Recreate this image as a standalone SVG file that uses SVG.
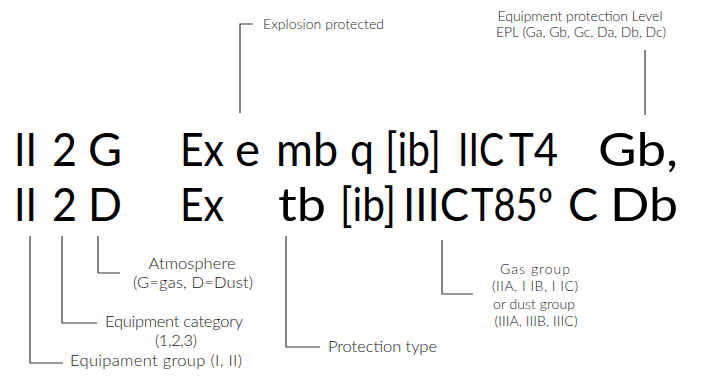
<svg xmlns="http://www.w3.org/2000/svg" width="703" height="378" viewBox="0 0 703 378">
<style>
.main{font-family:Lato,"Open Sans","Liberation Sans",sans-serif;font-size:46px;fill:#000}
.lbl{font-family:Lato,"Open Sans","Liberation Sans",sans-serif;font-weight:300;font-size:16.5px;fill:#222}
.sm{font-size:14px}
.c{text-anchor:middle}
.ln{fill:none;stroke:#333;stroke-width:1.2}
</style>
<rect width="703" height="378" fill="#fff"/>
<g id="code-line1">
<text class="main" x="14" y="166" textLength="23" lengthAdjust="spacingAndGlyphs">II</text>
<text class="main" x="52" y="166" textLength="25" lengthAdjust="spacingAndGlyphs">2</text>
<text class="main" x="88" y="166" textLength="34" lengthAdjust="spacingAndGlyphs">G</text>
<text class="main" x="180" y="166" textLength="44" lengthAdjust="spacingAndGlyphs">Ex</text>
<text class="main" x="235" y="166" textLength="25" lengthAdjust="spacingAndGlyphs">e</text>
<text class="main" x="276" y="166" textLength="62" lengthAdjust="spacingAndGlyphs">mb</text>
<text class="main" x="350" y="166" textLength="24" lengthAdjust="spacingAndGlyphs">q</text>
<text class="main" x="385" y="166" textLength="56" lengthAdjust="spacingAndGlyphs">[ib]</text>
<text class="main" x="458" y="166" textLength="46" lengthAdjust="spacingAndGlyphs">IIC</text>
<text class="main" x="509" y="166" textLength="49" lengthAdjust="spacingAndGlyphs">T4</text>
<text class="main" x="598" y="166" textLength="80" lengthAdjust="spacingAndGlyphs">Gb,</text>
</g>
<g id="code-line2">
<text class="main" x="14" y="221" textLength="23" lengthAdjust="spacingAndGlyphs">II</text>
<text class="main" x="52" y="221" textLength="25" lengthAdjust="spacingAndGlyphs">2</text>
<text class="main" x="88" y="221" textLength="34" lengthAdjust="spacingAndGlyphs">D</text>
<text class="main" x="180" y="221" textLength="44" lengthAdjust="spacingAndGlyphs">Ex</text>
<text class="main" x="278" y="221" textLength="48" lengthAdjust="spacingAndGlyphs">tb</text>
<text class="main" x="340" y="221" textLength="56" lengthAdjust="spacingAndGlyphs">[ib]</text>
<text class="main" x="403" y="221" textLength="66" lengthAdjust="spacingAndGlyphs">IIIC</text>
<text class="main" x="471" y="221" textLength="82" lengthAdjust="spacingAndGlyphs">T85º</text>
<text class="main" x="568" y="221" textLength="30" lengthAdjust="spacingAndGlyphs">C</text>
<text class="main" x="610" y="221" textLength="68" lengthAdjust="spacingAndGlyphs">Db</text>
</g>
<g id="connectors">
<polyline class="ln" points="30,236 30,363 63,363"/>
<polyline class="ln" points="62,236 62,323 97,323"/>
<polyline class="ln" points="98,236 98,273 120,273"/>
<polyline class="ln" points="286,236 286,347 320,347"/>
<polyline class="ln" points="442,240 442,294 473,294"/>
<polyline class="ln" points="240,113 240,24 253,24"/>
<line class="ln" x1="645" y1="50" x2="645" y2="115"/>
</g>
<g id="label-explosion">
<text class="lbl sm" x="263" y="29" textLength="121">Explosion protected</text>
</g>
<g id="label-epl">
<text class="lbl sm c" x="580" y="21" textLength="165">Equipment protection Level</text>
<text class="lbl sm c" x="581" y="37" textLength="170">EPL (Ga, Gb, Gc, Da, Db, Dc)</text>
</g>
<g id="label-atmosphere">
<text class="lbl c" x="192" y="269" textLength="87">Atmosphere</text>
<text class="lbl c" x="193" y="288" textLength="120">(G=gas, D=Dust)</text>
</g>
<g id="label-category">
<text class="lbl c" x="174" y="327" textLength="138">Equipment category</text>
<text class="lbl c" x="176" y="346" textLength="42">(1,2,3)</text>
</g>
<g id="label-group">
<text class="lbl" x="70" y="366" textLength="172">Equipament group (I, II)</text>
</g>
<g id="label-protection">
<text class="lbl" x="328" y="352" textLength="109">Protection type</text>
</g>
<g id="label-gasgroup">
<text class="lbl sm c" x="535" y="274" textLength="70">Gas group</text>
<text class="lbl sm c" x="535" y="291" textLength="86">(IIA, I IB, I IC)</text>
<text class="lbl sm c" x="534" y="309" textLength="82">or dust group</text>
<text class="lbl sm c" x="536" y="326" textLength="83">(IIIA, IIIB, IIIC)</text>
</g>
</svg>
